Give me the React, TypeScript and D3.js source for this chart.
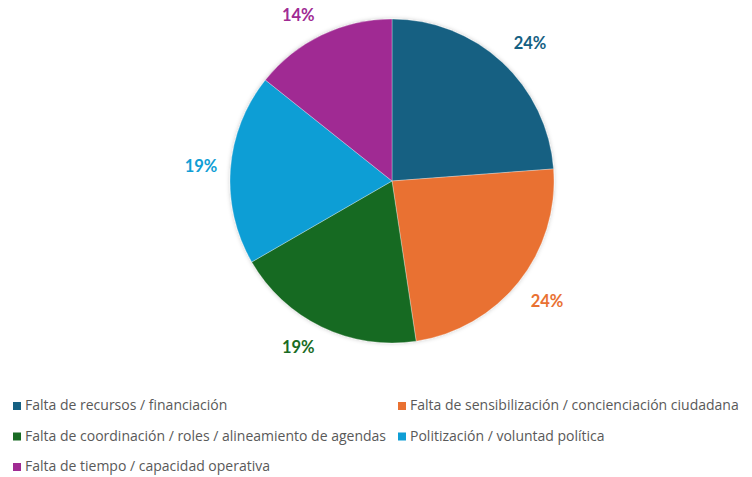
import React from "react";
import * as d3 from "d3";

const categories = [
  "Falta de recursos / financiación",
  "Falta de sensibilización / concienciación ciudadana",
  "Falta de coordinación / roles / alineamiento de agendas",
  "Politización / voluntad política",
  "Falta de tiempo / capacidad operativa",
];
const values = [5, 5, 4, 4, 3];
const colors = ["#156082", "#E97132", "#196B24", "#0F9ED5", "#A02B93"];
const legendRows = [0, 0, 1, 1, 2];
const legendCols = [0, 1, 0, 1, 0];

export default function App() {
  const W = 752, H = 477;
  const cx = 392, cy = 181, r = 162;
  const labelR = 166.7, hw = 24.7, hh = 15.8;
  const total = d3.sum(values);
  const pie = d3.pie<number>().sort(null).value((d) => d)(values);
  const arc = d3.arc<d3.PieArcDatum<number>>().innerRadius(0).outerRadius(r);
  const fmt = d3.format(".0%");
  const rowY = d3.scaleLinear().domain([0, 2]).range([410, 471]);
  const colX = d3.scaleOrdinal<number, number>().domain([0, 1]).range([13, 398]);
  const clamp = (v: number) => Math.max(-1, Math.min(1, v * 2));
  const labelFont = "Lato, 'Open Sans', sans-serif";
  const legendFont = "'Open Sans', Lato, sans-serif";
  return (
    <svg width={W} height={H} style={{ position: "absolute", left: 0, top: 0 }}>
      <defs>
        <filter id="sh" x="-20%" y="-20%" width="140%" height="140%">
          <feDropShadow dx="0" dy="0" stdDeviation="2" floodColor="#000" floodOpacity="0.22" />
        </filter>
      </defs>
      <rect width={W} height={H} fill="#fff" />
      <g transform={`translate(${cx},${cy})`}>
        <g filter="url(#sh)">
          {pie.map((p, i) => (
            <path key={i} d={arc(p) || ""} fill={colors[i]} stroke="#fff" strokeWidth={0.3} />
          ))}
        </g>
        {pie.map((p, i) => {
          const a = (p.startAngle + p.endAngle) / 2;
          const ux = Math.sin(a), uy = -Math.cos(a);
          const x = labelR * ux + hw * clamp(ux);
          const y = labelR * uy + hh * clamp(uy);
          return (
            <text key={i} x={x} y={y} dy="0.36em" textAnchor="middle" fontFamily={labelFont}
              fontWeight="bold" fontSize={16.5} fill={colors[i]}>
              {fmt(values[i] / total)}
            </text>
          );
        })}
      </g>
      {categories.map((c, i) => (
        <g key={i} transform={`translate(${colX(legendCols[i])},${rowY(legendRows[i])})`}>
          <rect x={0} y={-8} width={8} height={8} fill={colors[i]} />
          <text x={12} y={0} fontFamily={legendFont} fontSize={14} fill="#595959">
            {c}
          </text>
        </g>
      ))}
    </svg>
  );
}
